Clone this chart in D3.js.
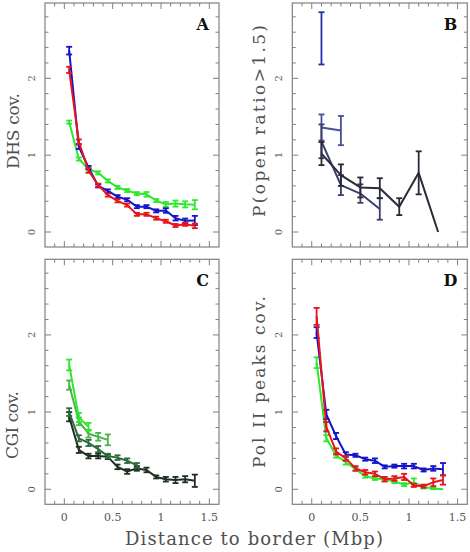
<!DOCTYPE html>
<html><head><meta charset="utf-8">
<script src="https://cdn.jsdelivr.net/npm/d3@7"></script>
<style>body{margin:0;background:#fff}svg{display:block}</style>
</head><body>
<script>
// ---------- data ----------
const binsFine = [0.05,0.15,0.25,0.35,0.45,0.55,0.65,0.75,0.85,0.95,1.05,1.15,1.25,1.35];
const binsCoarse = [0.1,0.3,0.5,0.7,0.9,1.1,1.3];
const yTicks = [0,1,2];
const xTickLabels = ["0","0.5","1","1.5"];
const xTickVals = [0,0.5,1,1.5];

// Panel A: DHS coverage
const dhsGreen    = [1.43,0.95,0.82,0.77,0.665,0.58,0.54,0.50,0.49,0.41,0.36,0.37,0.36,0.355];
const dhsGreenErr = [0.02,0.02,0.02,0.02,0.02,0.02,0.02,0.02,0.03,0.02,0.03,0.04,0.04,0.06];
const dhsBlue     = [2.36,1.11,0.84,0.60,0.535,0.46,0.42,0.33,0.33,0.275,0.28,0.18,0.145,0.15];
const dhsBlueErr  = [0.05,0.03,0.02,0.02,0.02,0.02,0.02,0.02,0.02,0.02,0.03,0.03,0.03,0.06];
const dhsRed      = [2.11,1.175,0.80,0.61,0.48,0.405,0.35,0.23,0.23,0.18,0.14,0.085,0.10,0.08];
const dhsRedErr   = [0.04,0.03,0.03,0.02,0.02,0.02,0.02,0.02,0.02,0.02,0.02,0.02,0.02,0.03];

// Panel B: P(open ratio>1.5)
const openTop    = [2.52];
const openTopErr = [0.34];
const open1      = [1.36,1.32];
const open1Err   = [0.17,0.19];
const open2      = [1.18,0.61,0.50,0.30];
const open2Err   = [0.22,0.13,0.12,0.14];
const open3      = [1.02,0.74,0.58,0.57,0.33,0.77,0.0];
const open3Err   = [0.15,0.14,0.13,0.13,0.11,0.28,0.0];

// Panel C: CGI coverage
const cgi1    = [1.61,0.93,0.81];
const cgi1Err = [0.07,0.06,0.05];
const cgi2    = [1.35,0.88,0.72,0.68,0.64];
const cgi2Err = [0.06,0.05,0.05,0.05,0.07];
const cgi3    = [1.00,0.66,0.60,0.52,0.43,0.41,0.37,0.31];
const cgi3Err = [0.05,0.04,0.04,0.04,0.03,0.03,0.03,0.03];
const cgi4    = [0.94,0.51,0.43,0.43,0.42,0.29,0.23,0.27,0.25,0.16,0.13,0.12,0.13,0.11];
const cgi4Err = [0.06,0.04,0.03,0.03,0.03,0.03,0.03,0.03,0.03,0.02,0.03,0.04,0.04,0.08];

// Panel D: Pol II peaks coverage
const polGreen    = [1.64,0.66,0.44,0.35,0.26,0.17,0.14,0.13,0.10,0.06,0.09,0.03,0.01,0.0];
const polGreenErr = [0.07,0.04,0.03,0.03,0.02,0.02,0.02,0.02,0.02,0.02,0.05,0.02,0.01,0.0];
const polBlue     = [2.03,0.97,0.69,0.45,0.44,0.39,0.37,0.29,0.30,0.30,0.30,0.25,0.27,0.26];
const polBlueErr  = [0.07,0.06,0.04,0.03,0.02,0.02,0.03,0.02,0.02,0.03,0.03,0.02,0.03,0.08];
const polRed      = [2.24,0.81,0.49,0.40,0.27,0.22,0.20,0.13,0.14,0.16,0.05,0.04,0.09,0.12];
const polRedErr   = [0.11,0.06,0.04,0.03,0.03,0.03,0.03,0.03,0.03,0.04,0.02,0.02,0.05,0.06];

const panelLetters = ["A","B","C","D"];
const yTitles = ["DHS cov.","P(open ratio>1.5)","CGI cov.","Pol II peaks cov."];
const xTitle = "Distance to border (Mbp)";

// ---------- drawing ----------
const W = 470, H = 552;
const svg = d3.select("body").append("svg").attr("width", W).attr("height", H);
const FONT = "'DejaVu Serif','Liberation Serif',serif";
const frameCol = "#808080";

function zipSeries(xs, ys, es){ return ys.map((v,i)=>({x:xs[i], y:v, e:es[i]})); }

const panels = [
  {letter:panelLetters[0], x0:45, x1:219, y0:3, y1:247, title:yTitles[0], tx:13, ty:131, tlen:76, xlabels:false,
   series:[
     {d:zipSeries(binsFine,dhsGreen,dhsGreenErr), c:"#2ee82e"},
     {d:zipSeries(binsFine,dhsBlue,dhsBlueErr), c:"#1414cc"},
     {d:zipSeries(binsFine,dhsRed,dhsRedErr), c:"#e8141a"}]},
  {letter:panelLetters[1], x0:292.3, x1:467.3, y0:3, y1:247, title:yTitles[1], tx:259, ty:121, tlen:192, xlabels:false,
   series:[
     {d:zipSeries(binsCoarse,openTop,openTopErr), c:"#2030b0"},
     {d:zipSeries(binsCoarse,open1,open1Err), c:"#4a4f98"},
     {d:zipSeries(binsCoarse,open2,open2Err), c:"#3b3e6c"},
     {d:zipSeries(binsCoarse,open3,open3Err), c:"#2a2a38"}]},
  {letter:panelLetters[2], x0:45, x1:219, y0:259.3, y1:504.3, title:yTitles[2], tx:12, ty:425, tlen:68, xlabels:true,
   series:[
     {d:zipSeries(binsFine,cgi4,cgi4Err), c:"#1f2f22"},
     {d:zipSeries(binsFine,cgi3,cgi3Err), c:"#2f6a3d"},
     {d:zipSeries(binsFine,cgi2,cgi2Err), c:"#4cb44c"},
     {d:zipSeries(binsFine,cgi1,cgi1Err), c:"#2ee82e"}]},
  {letter:panelLetters[3], x0:292.3, x1:467.3, y0:259.3, y1:504.3, title:yTitles[3], tx:259, ty:382, tlen:172, xlabels:true,
   series:[
     {d:zipSeries(binsFine,polGreen,polGreenErr), c:"#2ee82e"},
     {d:zipSeries(binsFine,polBlue,polBlueErr), c:"#1414cc"},
     {d:zipSeries(binsFine,polRed,polRedErr), c:"#e8141a"}]}
];

panels.forEach(p => {
  const x = d3.scaleLinear().domain([-0.2,1.6]).range([p.x0,p.x1]);
  const y = d3.scaleLinear().domain([-0.195,2.98]).range([p.y1,p.y0]);
  const g = svg.append("g");

  // inward ticks on all four sides
  const yMinor = d3.range(0,2.9,0.2);
  const xMinor = d3.range(-0.1,1.55,0.1);
  const isMajY = v => Math.abs(v-Math.round(v))<1e-6;
  const isMajX = v => Math.abs(v*2-Math.round(v*2))<1e-6;
  yMinor.forEach(v=>{
    const L = isMajY(v)?6:3.5;
    g.append("line").attr("x1",p.x0).attr("x2",p.x0+L).attr("y1",y(v)).attr("y2",y(v)).attr("stroke",frameCol).attr("stroke-width",1);
    g.append("line").attr("x1",p.x1).attr("x2",p.x1-L).attr("y1",y(v)).attr("y2",y(v)).attr("stroke",frameCol).attr("stroke-width",1);
  });
  xMinor.forEach(v=>{
    const L = isMajX(v)?6:3.5;
    g.append("line").attr("y1",p.y1).attr("y2",p.y1-L).attr("x1",x(v)).attr("x2",x(v)).attr("stroke",frameCol).attr("stroke-width",1);
    g.append("line").attr("y1",p.y0).attr("y2",p.y0+L).attr("x1",x(v)).attr("x2",x(v)).attr("stroke",frameCol).attr("stroke-width",1);
  });
  g.append("rect").attr("x",p.x0).attr("y",p.y0).attr("width",p.x1-p.x0).attr("height",p.y1-p.y0)
    .attr("fill","none").attr("stroke",frameCol).attr("stroke-width",1.2);

  // y tick labels (rotated)
  yTicks.forEach(v=>{
    g.append("text").attr("transform",`translate(${p.x0-10},${y(v)}) rotate(-90)`)
      .attr("text-anchor","middle").attr("font-family",FONT).attr("font-size",10).attr("fill","#555")
      .text(String(v));
  });
  // x tick labels
  if (p.xlabels) {
    xTickVals.forEach((v,i)=>{
      g.append("text").attr("x",x(v)).attr("y",p.y1+17).attr("text-anchor","middle")
        .attr("font-family",FONT).attr("font-size",11).attr("fill","#555").text(xTickLabels[i]);
    });
  }
  // y title
  g.append("text").attr("transform",`translate(${p.tx+6},${p.ty}) rotate(-90)`)
    .attr("text-anchor","middle").attr("font-family",FONT).attr("font-size",17).attr("fill","#505050")
    .attr("textLength",p.tlen).attr("lengthAdjust","spacing").text(p.title);
  // panel letter
  g.append("text").attr("x",p.x1-10).attr("y",p.y0+27).attr("text-anchor","end")
    .attr("font-family",FONT).attr("font-weight","bold").attr("font-size",16).attr("fill","#111").text(p.letter);

  // series
  const line = d3.line().x(d=>x(d.x)).y(d=>y(d.y));
  p.series.forEach(s=>{
    const gs = g.append("g");
    if (s.d.length>1) gs.append("path").attr("d",line(s.d)).attr("fill","none").attr("stroke",s.c).attr("stroke-width",2).attr("stroke-linejoin","round");
    s.d.forEach(d=>{
      if (d.e<=0) return;
      const cx = x(d.x), ya = y(d.y+d.e), yb = y(d.y-d.e);
      gs.append("line").attr("x1",cx).attr("x2",cx).attr("y1",ya).attr("y2",yb).attr("stroke",s.c).attr("stroke-width",1.8);
      [ya,yb].forEach(yy=>gs.append("line").attr("x1",cx-3).attr("x2",cx+3).attr("y1",yy).attr("y2",yy).attr("stroke",s.c).attr("stroke-width",1.8));
    });
  });
});

// common x title
svg.append("text").attr("x",254).attr("y",545).attr("text-anchor","middle")
  .attr("font-family",FONT).attr("font-size",18).attr("fill","#505050")
  .attr("textLength",258).attr("lengthAdjust","spacing").text(xTitle);
</script>
</body></html>
